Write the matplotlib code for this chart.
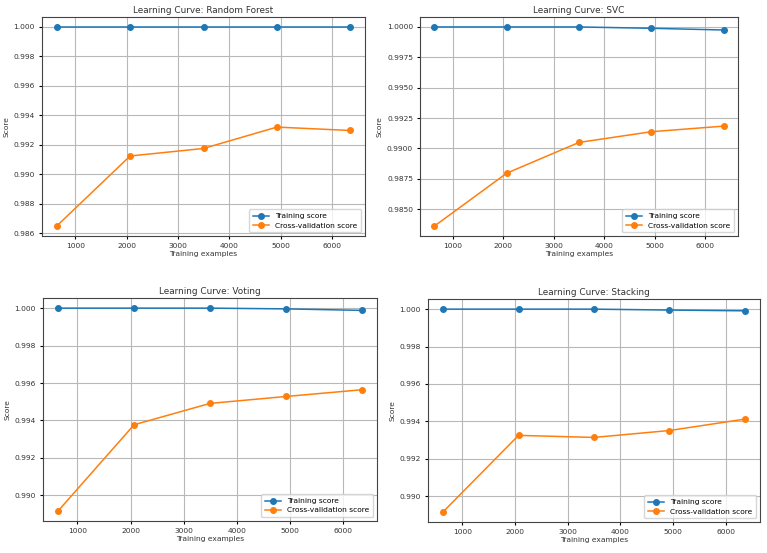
import matplotlib
matplotlib.use("Agg")
import matplotlib.pyplot as plt

train_sizes = [636, 2067, 3498, 4929, 6360]

rf_train = [1.0, 1.0, 1.0, 1.0, 1.0]
rf_cv = [0.98650, 0.99125, 0.99176, 0.99321, 0.99298]

svc_train = [1.0, 1.0, 1.0, 0.99989, 0.99975]
svc_cv = [0.98362, 0.98797, 0.99050, 0.99138, 0.99184]

voting_train = [1.0, 1.0, 1.0, 0.99996, 0.99988]
voting_cv = [0.98917, 0.99377, 0.99491, 0.99528, 0.99564]

stacking_train = [1.0, 1.0, 1.0, 0.99995, 0.99991]
stacking_cv = [0.98916, 0.99325, 0.99314, 0.99351, 0.99412]

panels = [
    ("Random Forest", rf_train, rf_cv, [42, 17, 365, 236]),
    ("SVC", svc_train, svc_cv, [420, 17, 738, 236]),
    ("Voting", voting_train, voting_cv, [43, 298, 377, 521]),
    ("Stacking", stacking_train, stacking_cv, [428, 299, 760, 522]),
]

W, H = 767, 553
fig = plt.figure(figsize=(W / 100, H / 100), dpi=100)

for name, train, cv, (x0, y0, x1, y1) in panels:
    ax = fig.add_axes([x0 / W, 1 - y1 / H, (x1 - x0) / W, (y1 - y0) / H])
    ax.plot(train_sizes, train, "o-", color="#1f77b4", markersize=4,
            linewidth=1.1, label="Training score")
    ax.plot(train_sizes, cv, "o-", color="#ff7f0e", markersize=4,
            linewidth=1.1, label="Cross-validation score")
    ax.set_title(f"Learning Curve: {name}", fontsize=6.4, pad=3,
                 color="#333333")
    ax.set_xlabel("Training examples", fontsize=5.4, labelpad=1.5,
                  color="#333333")
    ax.set_ylabel("Score", fontsize=5.4, labelpad=3, color="#333333")
    ax.tick_params(labelsize=5.4, length=2.5, pad=2.5, labelcolor="#333333")
    for spine in ax.spines.values():
        spine.set_color("#444444")
    ax.grid(True, color="#b8b8b8", linewidth=0.8)
    ax.legend(loc="lower right", fontsize=5.4, handlelength=2.2,
              borderpad=0.5, labelspacing=0.4)

fig.savefig("out.png", dpi=100)
